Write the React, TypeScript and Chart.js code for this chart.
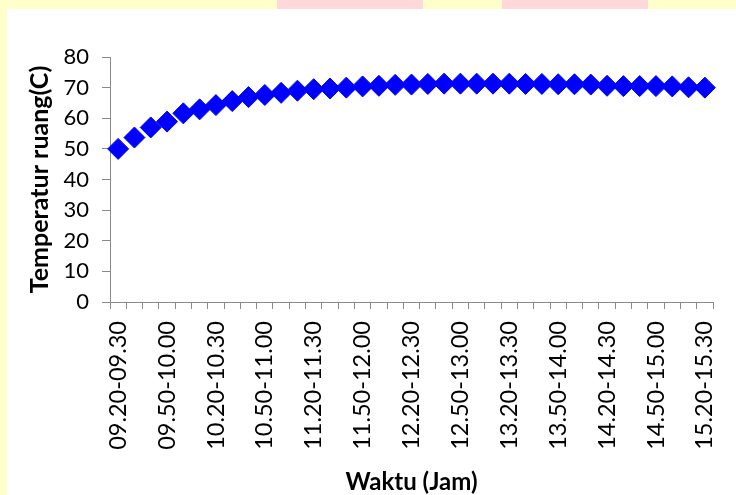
import React, { useEffect, useRef } from "react";
import { Chart, registerables } from "chart.js";

Chart.register(...registerables);

const categories: string[] = [
  "09.20-09.30", "09.30-09.40", "09.40-09.50", "09.50-10.00", "10.00-10.10", "10.10-10.20",
  "10.20-10.30", "10.30-10.40", "10.40-10.50", "10.50-11.00", "11.00-11.10", "11.10-11.20",
  "11.20-11.30", "11.30-11.40", "11.40-11.50", "11.50-12.00", "12.00-12.10", "12.10-12.20",
  "12.20-12.30", "12.30-12.40", "12.40-12.50", "12.50-13.00", "13.00-13.10", "13.10-13.20",
  "13.20-13.30", "13.30-13.40", "13.40-13.50", "13.50-14.00", "14.00-14.10", "14.10-14.20",
  "14.20-14.30", "14.30-14.40", "14.40-14.50", "14.50-15.00", "15.00-15.10", "15.10-15.20",
  "15.20-15.30",
];

const temperature: number[] = [
  50.0, 53.7, 57.0, 58.9, 61.6, 62.9, 64.3, 65.6, 66.9, 67.6, 68.3, 69.0, 69.5,
  69.7, 70.0, 70.4, 70.6, 70.9, 71.0, 71.2, 71.3, 71.3, 71.3, 71.3, 71.3, 71.2,
  71.2, 71.1, 71.1, 71.0, 70.6, 70.5, 70.5, 70.5, 70.4, 70.1, 70.0,
];

const yTicks: number[] = [0, 10, 20, 30, 40, 50, 60, 70, 80];
const labelEvery = 3;

const FONT = "Lato, 'Open Sans', sans-serif";

export default function App() {
  const ref = useRef<HTMLCanvasElement | null>(null);

  useEffect(() => {
    document.body.style.margin = "0";
    const canvas = ref.current;
    if (!canvas) return;
    const chart = new Chart(canvas, {
      type: "line",
      data: {
        labels: categories,
        datasets: [
          {
            data: temperature,
            showLine: false,
            pointStyle: "rectRot",
            pointRadius: 10.5,
            pointBorderWidth: 1,
            pointBackgroundColor: "#0000FF",
            pointBorderColor: "#0000FF",
            borderColor: "#0000FF",
            backgroundColor: "#0000FF",
          },
        ],
      },
      options: {
        animation: false,
        responsive: false,
        devicePixelRatio: 1,
        layout: { padding: { left: 0, top: 57, right: 23, bottom: 0 } },
        plugins: {
          legend: { display: false },
          tooltip: { enabled: false },
        },
        scales: {
          x: {
            type: "category",
            offset: true,
            border: { display: true, color: "#8a8a8a", width: 1 },
            grid: {
              offset: true,
              drawOnChartArea: false,
              drawTicks: true,
              tickLength: 7,
              color: "#8a8a8a",
            },
            ticks: {
              autoSkip: false,
              maxRotation: 90,
              minRotation: 90,
              padding: 12,
              color: "#000",
              font: { family: FONT, size: 23.5 },
              callback: (_v: any, i: number) => (i % labelEvery === 0 ? categories[i] : ""),
            },
            title: {
              display: true,
              text: "Waktu (Jam)",
              color: "#000",
              font: { family: FONT, size: 24, weight: "bold", lineHeight: 1.1 },
              padding: { top: 0, bottom: 0 },
            },
            afterFit: (s: any) => {
              s.height = 193;
              s.paddingLeft = 0;
              s.paddingRight = 0;
            },
          },
          y: {
            min: 0,
            max: 80,
            afterBuildTicks: (s: any) => {
              s.ticks = yTicks.map((v) => ({ value: v }));
            },
            border: { display: true, color: "#8a8a8a", width: 1 },
            grid: {
              drawOnChartArea: false,
              drawTicks: true,
              tickLength: 8,
              color: "#8a8a8a",
            },
            ticks: {
              padding: 13,
              color: "#000",
              font: { family: FONT, size: 22 },
            },
            title: {
              display: true,
              text: "Temperatur ruang(C)",
              color: "#000",
              font: { family: FONT, size: 25, weight: "bold", lineHeight: 1.2 },
              padding: { top: 25, bottom: 0 },
            },
            afterFit: (s: any) => {
              s.width = 110;
              s.paddingTop = 0;
              s.paddingBottom = 0;
            },
          },
        },
      },
    });
    return () => chart.destroy();
  }, []);

  return (
    <div style={{ position: "relative", width: 736, height: 495, background: "#FFFFCC", overflow: "hidden" }}>
      <div style={{ position: "absolute", left: 277, top: 0, width: 146, height: 9, background: "#FFD9D9" }} />
      <div style={{ position: "absolute", left: 502, top: 0, width: 146, height: 9, background: "#FFD9D9" }} />
      <div style={{ position: "absolute", left: 7, top: 9, width: 729, height: 486, background: "#FFFFFF" }} />
      <canvas ref={ref} width={736} height={495} style={{ position: "absolute", left: 0, top: 0, width: 736, height: 495 }} />
    </div>
  );
}
